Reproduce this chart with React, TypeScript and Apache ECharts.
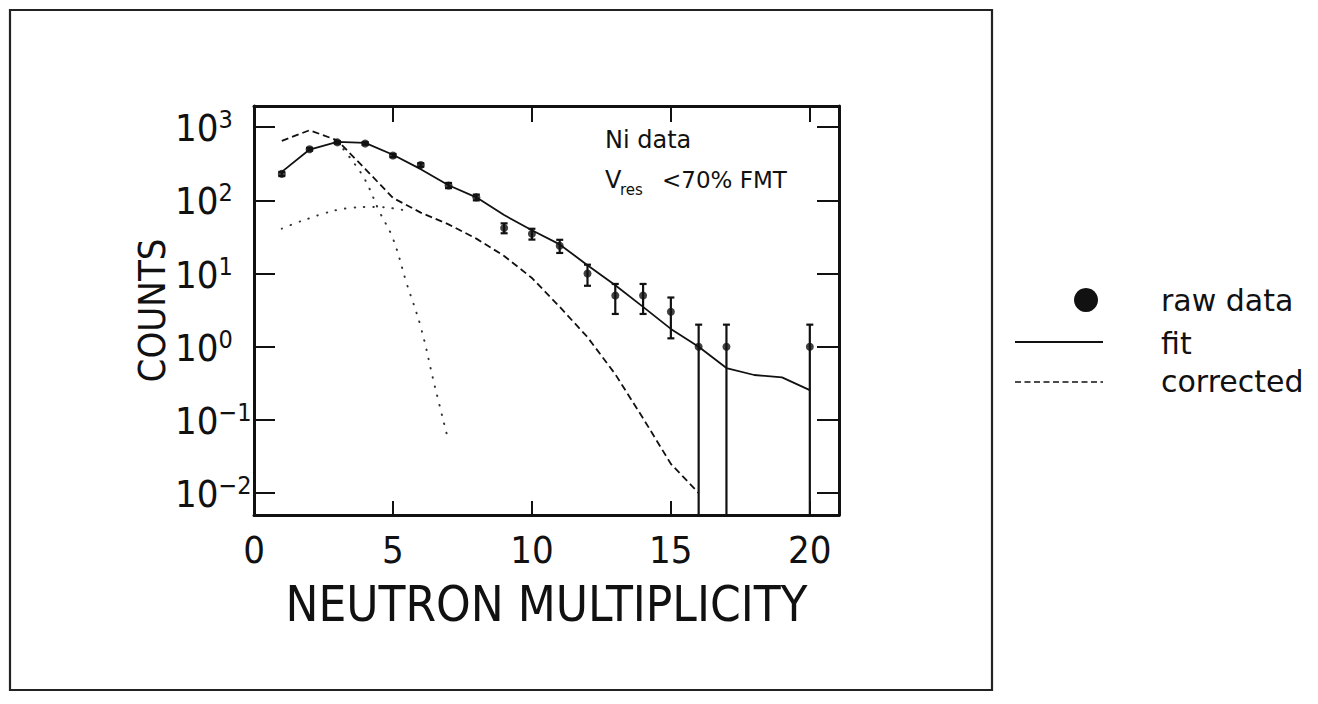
import { useEffect, useRef } from "react";
import * as echarts from "echarts";

// Measured neutron multiplicity distribution (Ni data)
const multiplicity = [1, 2, 3, 4, 5, 6, 7, 8, 9, 10, 11, 12, 13, 14, 15, 16, 17, 20];
const rawCounts = [230, 500, 620, 600, 410, 305, 160, 110, 42, 35, 24, 10, 5, 5, 3, 1, 1, 1];
const rawErrors = [15, 22, 25, 24, 20, 17, 13, 10, 6.5, 5.9, 4.9, 3.2, 2.2, 2.2, 1.7, 1, 1, 1];

// Fit to the raw distribution
const fitX = [1, 2, 3, 4, 5, 6, 7, 8, 9, 10, 11, 12, 13, 14, 15, 16, 17, 18, 19, 20];
const fitCounts = [245, 495, 630, 611, 420, 267, 161, 110, 63, 39, 25, 13, 6.9, 3.5, 1.75, 1.0, 0.51, 0.41, 0.38, 0.255];

// Efficiency-corrected distribution
const correctedX = [1, 2, 3, 4, 5, 6, 7, 8, 9, 10, 11, 12, 13, 14, 15, 16];
const correctedCounts = [650, 910, 660, 270, 108, 68, 47, 30, 17.4, 8.7, 3.5, 1.35, 0.42, 0.105, 0.025, 0.01];

// The two components of the corrected distribution (dotted)
const lowComponentX = [1, 1.5, 2, 2.5, 3, 3.5, 4, 4.5, 5, 5.5];
const lowComponentCounts = [41, 49, 57, 66, 74, 79, 81, 81, 78, 72];
const highComponentX = [3, 3.5, 4, 4.5, 5, 5.5, 6, 6.5, 7];
const highComponentCounts = [630, 363, 190, 72, 30, 7.2, 1.86, 0.295, 0.051];

const X_MIN = 0;
const X_MAX = 21.05;
const X_STEP = 5;
const Y_MIN = 0.005;
const Y_MAX = 1950;

const NARROW = "'Liberation Sans Narrow', 'DejaVu Sans Condensed', 'Liberation Sans', sans-serif";
const PLAIN = "'DejaVu Sans', 'Liberation Sans', sans-serif";
const INK = "#111";

const pairs = (xs: number[], ys: number[]) => xs.map((x, i) => [x, ys[i]]);

export default function App() {
  const ref = useRef<HTMLDivElement>(null);

  useEffect(() => {
    if (!ref.current) return;
    const chart = echarts.init(ref.current, null, { renderer: "svg" });

    const errorBars = multiplicity.map((x, i) => [
      x,
      Math.max(rawCounts[i] - rawErrors[i], Y_MIN),
      rawCounts[i] + rawErrors[i],
    ]);

    const axisLine = { show: true, onZero: false, lineStyle: { color: INK, width: 3 } };

    const supLabel = (v: number) => {
      const e = Math.round(Math.log10(v));
      const s = e < 0 ? "\u2212" + Math.abs(e) : String(e);
      return `{b|10}{s|${s}}`;
    };

    chart.setOption({
      animation: false,
      backgroundColor: "#fff",
      grid: { left: 254, top: 106, width: 585, height: 409, show: false },
      xAxis: [
        {
          type: "value",
          min: X_MIN,
          max: X_MAX,
          interval: X_STEP,
          position: "bottom",
          axisLine,
          axisTick: { inside: true, length: 14, lineStyle: { color: INK, width: 2 } },
          axisLabel: {
            fontSize: 38,
            fontFamily: NARROW,
            color: INK,
            margin: 16,
            showMaxLabel: false,
          },
          splitLine: { show: false },
          name: "NEUTRON MULTIPLICITY",
          nameLocation: "middle",
          nameGap: 65,
          nameTextStyle: { fontSize: 49, fontFamily: NARROW, color: INK },
        },
        {
          type: "value",
          min: X_MIN,
          max: X_MAX,
          interval: X_STEP,
          position: "top",
          axisLine,
          axisTick: { inside: true, length: 16, lineStyle: { color: INK, width: 2 } },
          axisLabel: { show: false },
          splitLine: { show: false },
        },
      ],
      yAxis: [
        {
          type: "log",
          logBase: 10,
          min: Y_MIN,
          max: Y_MAX,
          position: "left",
          axisLine,
          axisTick: { inside: true, length: 21, lineStyle: { color: INK, width: 2 } },
          minorTick: { show: false },
          axisLabel: {
            margin: 79,
            align: "left",
            showMinLabel: false,
            showMaxLabel: false,
            formatter: supLabel,
            rich: {
              b: { fontSize: 38, fontFamily: NARROW, color: INK, lineHeight: 40, verticalAlign: "bottom" },
              s: { fontSize: 25, fontFamily: NARROW, color: INK, lineHeight: 25, verticalAlign: "top" },
            },
          },
          splitLine: { show: false },
          name: "COUNTS",
          nameLocation: "middle",
          nameGap: 78,
          nameRotate: 90,
          nameTextStyle: { fontSize: 38, fontFamily: NARROW, color: INK },
        },
        {
          type: "log",
          logBase: 10,
          min: Y_MIN,
          max: Y_MAX,
          position: "right",
          axisLine,
          axisTick: { inside: true, length: 22, lineStyle: { color: INK, width: 2 } },
          minorTick: { show: false },
          axisLabel: { show: false },
          splitLine: { show: false },
        },
      ],
      series: [
        {
          name: "fit",
          type: "line",
          data: pairs(fitX, fitCounts),
          showSymbol: false,
          silent: true,
          lineStyle: { color: INK, width: 1.8 },
          z: 3,
        },
        {
          name: "corrected",
          type: "line",
          data: pairs(correctedX, correctedCounts),
          showSymbol: false,
          silent: true,
          lineStyle: { color: INK, width: 1.8, type: [7, 4] },
          z: 3,
        },
        {
          name: "low component",
          type: "line",
          data: pairs(lowComponentX, lowComponentCounts),
          smooth: 0.4,
          showSymbol: false,
          silent: true,
          lineStyle: { color: "#333", width: 2, type: [0.5, 9], cap: "round" },
          z: 2,
        },
        {
          name: "high component",
          type: "line",
          data: pairs(highComponentX, highComponentCounts),
          smooth: 0.4,
          showSymbol: false,
          silent: true,
          lineStyle: { color: "#333", width: 2, type: [0.5, 9], cap: "round" },
          z: 2,
        },
        {
          name: "errors",
          type: "custom",
          data: errorBars,
          encode: { x: 0, y: [1, 2] },
          silent: true,
          z: 4,
          renderItem: (_params: any, api: any) => {
            const x = api.value(0);
            const lo = api.value(1);
            const hi = api.value(2);
            const clipped = lo <= Y_MIN;
            const top = api.coord([x, hi]);
            const bot = api.coord([x, clipped ? Y_MIN : lo]);
            const half = 3.5;
            const style = { stroke: INK, lineWidth: 2.2 };
            const children: any[] = [
              { type: "line", shape: { x1: top[0], y1: top[1], x2: bot[0], y2: bot[1] }, style },
              { type: "line", shape: { x1: top[0] - half, y1: top[1], x2: top[0] + half, y2: top[1] }, style },
            ];
            if (!clipped) {
              children.push({
                type: "line",
                shape: { x1: bot[0] - half, y1: bot[1], x2: bot[0] + half, y2: bot[1] },
                style,
              });
            }
            return { type: "group", children };
          },
        },
        {
          name: "raw data",
          type: "scatter",
          data: pairs(multiplicity, rawCounts),
          symbol: "circle",
          symbolSize: 8,
          silent: true,
          itemStyle: { color: INK },
          z: 5,
        },
      ],
      graphic: [
        {
          type: "rect",
          shape: { x: 10, y: 10, width: 982, height: 680 },
          style: { fill: "none", stroke: "#222", lineWidth: 2.2 },
          silent: true,
        },
        {
          type: "text",
          x: 605,
          y: 140,
          style: { text: "Ni data", fontSize: 24, fontFamily: PLAIN, fill: INK, align: "left", verticalAlign: "middle" },
        },
        {
          type: "text",
          x: 605,
          y: 180,
          style: { text: "V", fontSize: 24, fontFamily: PLAIN, fill: INK, align: "left", verticalAlign: "middle" },
        },
        {
          type: "text",
          x: 620,
          y: 190,
          style: { text: "res", fontSize: 15, fontFamily: PLAIN, fill: INK, align: "left", verticalAlign: "middle" },
        },
        {
          type: "text",
          x: 662,
          y: 180,
          style: { text: "<70% FMT", fontSize: 23, fontFamily: PLAIN, fill: INK, align: "left", verticalAlign: "middle" },
        },
        // legend
        {
          type: "circle",
          shape: { cx: 1086, cy: 300, r: 12 },
          style: { fill: INK },
        },
        {
          type: "line",
          shape: { x1: 1015, y1: 342, x2: 1103, y2: 342 },
          style: { stroke: INK, lineWidth: 2 },
        },
        {
          type: "line",
          shape: { x1: 1015, y1: 382, x2: 1103, y2: 382 },
          style: { stroke: INK, lineWidth: 1.5, lineDash: [6, 3.5] },
        },
        {
          type: "text",
          x: 1161,
          y: 300,
          style: { text: "raw data", fontSize: 30, fontFamily: PLAIN, fill: INK, align: "left", verticalAlign: "middle" },
        },
        {
          type: "text",
          x: 1161,
          y: 343,
          style: { text: "fit", fontSize: 30, fontFamily: PLAIN, fill: INK, align: "left", verticalAlign: "middle" },
        },
        {
          type: "text",
          x: 1161,
          y: 381,
          style: { text: "corrected", fontSize: 30, fontFamily: PLAIN, fill: INK, align: "left", verticalAlign: "middle" },
        },
      ],
    });

    return () => chart.dispose();
  }, []);

  return (
    <div
      ref={ref}
      style={{ position: "fixed", left: 0, top: 0, width: 1318, height: 704, background: "#fff" }}
    />
  );
}
